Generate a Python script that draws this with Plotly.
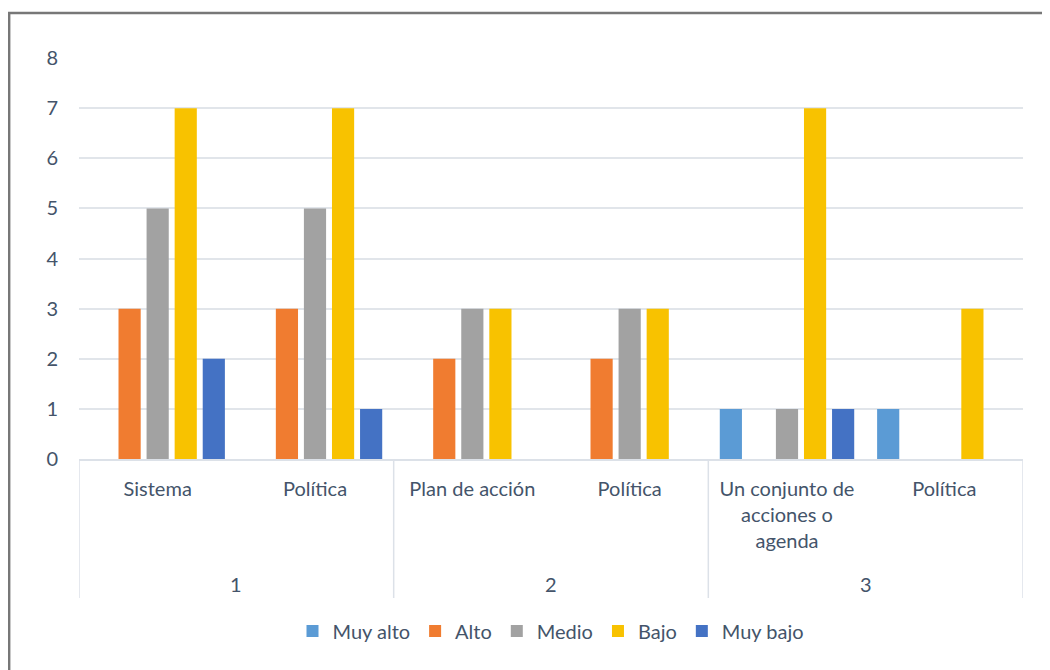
import plotly.graph_objects as go

groups = ["1", "2", "3"]
group_sizes = [2, 2, 2]
categories = ["Sistema", "Política", "Plan de acción", "Política",
              "Un conjunto de<br>acciones o<br>agenda", "Política"]
series_names = ["Muy alto", "Alto", "Medio", "Bajo", "Muy bajo"]
muy_alto = [0, 0, 0, 0, 1, 1]
alto = [3, 3, 2, 2, 0, 0]
medio = [5, 5, 3, 3, 1, 0]
bajo = [7, 7, 3, 3, 7, 3]
muy_bajo = [2, 1, 0, 0, 1, 0]
colors = ["#5B9BD5", "#F07C30", "#A2A2A2", "#F8C200", "#4472C4"]

values = [muy_alto, alto, medio, bajo, muy_bajo]
font_fam = "Lato, 'Open Sans', sans-serif"
txt = "#44546A"
FS = 20

# unique category keys (group + label) so repeated labels stay separate
group_of = [g for g, n in zip(groups, group_sizes) for _ in range(n)]
keys = [f"{g}-{i}" for i, g in enumerate(group_of)]

fig = go.Figure()
for name, vals, col in zip(series_names, values, colors):
    fig.add_trace(go.Bar(
        x=keys, y=vals, name=name,
        marker=dict(color=col, line=dict(width=0)),
    ))

W, H = 1042, 662
L, R, T, B = 71, 27, 50, 211
ph = H - T - B
pw = W - L - R

def py(y):
    return (H - B - y) / ph

def px(x):
    return (x - L) / pw

# outer chart border
fig.add_shape(type="rect", xref="paper", yref="paper",
              x0=px(1.2), x1=px(1048), y0=py(672), y1=py(5),
              line=dict(color="#777777", width=2.4), fillcolor="rgba(0,0,0,0)",
              layer="below")

# group dividers and group labels
div_col = "#DCE1E8"
start = 0
bounds = [-0.5]
for g, n in zip(groups, group_sizes):
    center = start + (n - 1) / 2
    fig.add_annotation(x=center, xref="x", y=py(576), yref="paper",
                       text=g, showarrow=False, yanchor="middle",
                       font=dict(size=FS, color=txt, family=font_fam))
    start += n
    bounds.append(start - 0.5)
for b in bounds:
    fig.add_shape(type="line", xref="x", yref="paper", x0=b, x1=b,
                  y0=0, y1=py(590), line=dict(color=div_col, width=1.5))

fig.update_layout(
    width=W, height=H,
    margin=dict(l=L, r=R, t=T, b=B),
    paper_bgcolor="white", plot_bgcolor="white",
    barmode="group", bargap=0.108, bargroupgap=0.21,
    font=dict(family=font_fam, size=FS, color=txt),
    showlegend=True,
    legend=dict(orientation="h", x=0.5, xanchor="center", y=py(623), yanchor="middle",
                font=dict(size=FS, color=txt), itemwidth=30, traceorder="normal"),
    xaxis=dict(
        type="category", showgrid=False, showline=True,
        linecolor=div_col, linewidth=1.5,
        tickmode="array", tickvals=keys, ticktext=categories,
        tickfont=dict(size=FS, color=txt), ticks="", ticklabelstandoff=11,
        tickangle=0, range=[-0.5, len(keys) - 0.5],
    ),
    yaxis=dict(
        range=[0, 8], dtick=1, showgrid=True, gridcolor="#E1E5EA", gridwidth=1.5,
        zeroline=False, showline=False, ticks="",
        tickfont=dict(size=FS, color=txt), ticklabelstandoff=20,
    ),
)

fig.write_html("out.html")
